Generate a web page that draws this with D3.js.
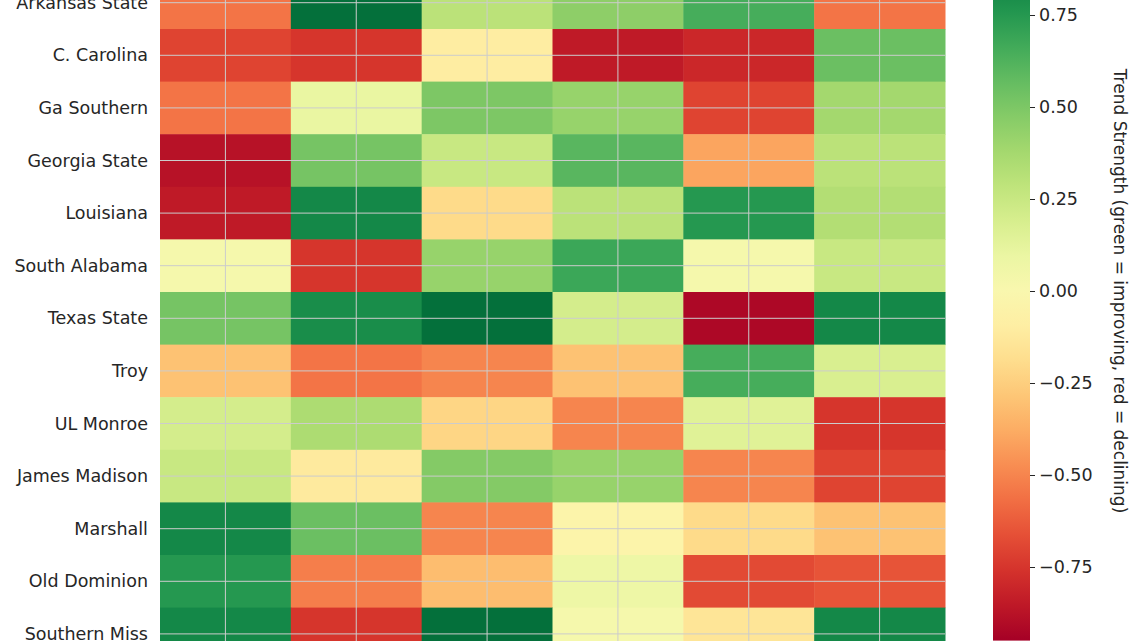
<!DOCTYPE html><html><head><meta charset="utf-8"><script src="https://cdn.jsdelivr.net/npm/d3@7"></script>
<style>body{margin:0;background:#fff}text{font-family:"DejaVu Sans",sans-serif;fill:#262626}</style></head><body>
<svg id="c" width="1140" height="641"></svg>
<script>
const teams=["Arkansas State","C. Carolina","Ga Southern","Georgia State","Louisiana","South Alabama","Texas State","Troy","UL Monroe","James Madison","Marshall","Old Dominion","Southern Miss"];
const columns=["c1","c2","c3","c4","c5","c6"];
const values=[
[-0.55,0.92,0.3,0.45,0.65,-0.55],
[-0.7,-0.75,-0.1,-0.85,-0.8,0.55],
[-0.55,0.1,0.5,0.42,-0.7,0.38],
[-0.88,0.52,0.25,0.6,-0.4,0.3],
[-0.85,0.82,-0.2,0.3,0.75,0.33],
[0.03,-0.75,0.42,0.68,0.03,0.25],
[0.52,0.8,0.92,0.2,-0.92,0.82],
[-0.3,-0.55,-0.5,-0.3,0.65,0.18],
[0.2,0.35,-0.22,-0.5,0.15,-0.75],
[0.25,-0.12,0.48,0.42,-0.5,-0.7],
[0.82,0.55,-0.5,-0.05,-0.2,-0.3],
[0.75,-0.52,-0.32,0.08,-0.68,-0.65],
[0.82,-0.75,0.92,0.03,-0.15,0.82]];
const cbTicks=[0.75,0.5,0.25,0,-0.25,-0.5,-0.75];
const svg=d3.select("#c");
const rh=52.6, top0=29-rh;
const x=d3.scaleBand().domain(columns).range([160,945]);
const y=d3.scaleBand().domain(teams).range([top0,top0+rh*teams.length]);
const col=d3.scaleSequential(d3.interpolateRdYlGn).domain([-0.95,0.95]);
const g=svg.append("g");
values.forEach((r,i)=>r.forEach((v,j)=>{
 g.append("rect").attr("x",x(columns[j])).attr("y",y(teams[i])).attr("width",x.bandwidth()+0.5).attr("height",y.bandwidth()+0.5).attr("fill",col(v));
}));
columns.forEach(c=>g.append("line").attr("x1",x(c)+x.bandwidth()/2).attr("x2",x(c)+x.bandwidth()/2).attr("y1",0).attr("y2",641).attr("stroke","#cccccc").attr("stroke-width",1));
teams.forEach(t=>g.append("line").attr("y1",y(t)+y.bandwidth()/2).attr("y2",y(t)+y.bandwidth()/2).attr("x1",160).attr("x2",945).attr("stroke","#cccccc").attr("stroke-width",1));
teams.forEach(t=>svg.append("text").attr("x",148).attr("y",y(t)+y.bandwidth()/2).attr("dy","0.35em").attr("text-anchor","end").attr("font-size",17.5).text(t));
const cy=d3.scaleLinear().domain([0,0.25]).range([291,199]);
const defs=svg.append("defs");
const grad=defs.append("linearGradient").attr("id","gr").attr("x1",0).attr("x2",0).attr("y1",1).attr("y2",0);
d3.range(0,1.001,0.05).forEach(t=>grad.append("stop").attr("offset",t).attr("stop-color",d3.interpolateRdYlGn(t)));
svg.append("rect").attr("x",993).attr("y",cy(0.95)).attr("width",37).attr("height",cy(-0.95)-cy(0.95)).attr("fill","url(#gr)");
const ax=svg.append("g").attr("transform","translate(1030,0)").call(d3.axisRight(cy).tickValues(cbTicks).tickSize(5).tickFormat(d=>d3.format(".2f")(d).replace("-","−")));
ax.select(".domain").remove();
ax.selectAll("text").attr("font-size",17.5).attr("x",9).style("font-family","DejaVu Sans").attr("fill","#262626");
ax.selectAll("line").attr("stroke","#262626");
svg.append("text").attr("transform","translate(1120,291) rotate(90)").attr("text-anchor","middle").attr("dy","0.35em").attr("font-size",17).text("Trend Strength (green = improving, red = declining)");
</script></body></html>
